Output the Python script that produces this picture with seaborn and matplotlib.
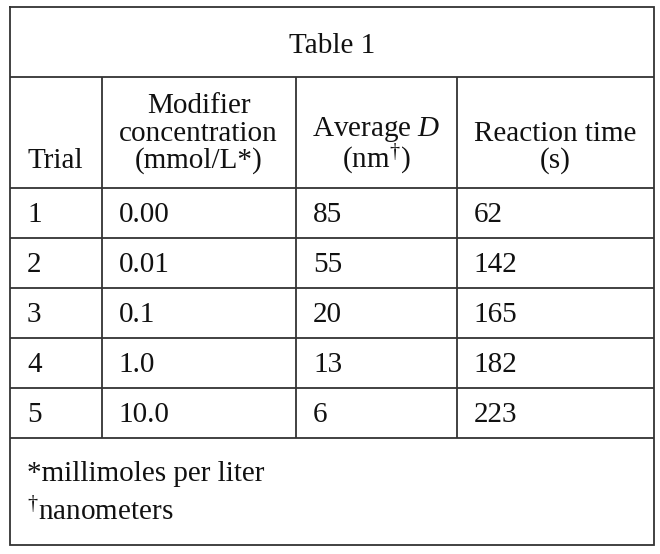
import matplotlib
matplotlib.use("Agg")
import matplotlib.pyplot as plt
import seaborn as sns

sns.set_theme(style="white")
plt.rcParams['font.family'] = ['Liberation Serif', 'DejaVu Serif']
plt.rcParams['mathtext.fontset'] = 'custom'
plt.rcParams['mathtext.rm'] = 'Liberation Serif'
plt.rcParams['mathtext.it'] = 'Liberation Serif:italic'

# ---- table data ----
title = "Table 1"
trials = ["1", "2", "3", "4", "5"]
modifier = ["0.00", "0.01", "0.1", "1.0", "10.0"]
avg_d = ["85", "55", "20", "13", "6"]
reaction = ["62", "142", "165", "182", "223"]
footnotes = ["*millimoles per liter", "$^{\u2020}$nanometers"]

W, H = 660, 554
fig = plt.figure(figsize=(W / 100, H / 100), dpi=100)
ax = fig.add_axes([0, 0, 1, 1])
ax.set_xlim(0, W)
ax.set_ylim(H, 0)
ax.axis("off")

FS = 21
LC = "#333333"
LW = 1.3
TC = "#111111"

# layout (pixels)
x_left, x_right = 10, 654
y_top, y_bottom = 7, 545
col_x = [x_left, 101.5, 296, 456.5, x_right]
y_title = 76.5
y_head = 187.5
row_h = 50
n = len(trials)
row_lines = [y_head + i * row_h for i in range(n + 1)]

# border and grid
ax.plot([x_left, x_right, x_right, x_left, x_left],
        [y_top, y_top, y_bottom, y_bottom, y_top], color=LC, lw=LW, solid_joinstyle="miter")
ax.hlines([y_title] + row_lines, x_left, x_right, color=LC, lw=LW)
ax.vlines(col_x[1:4], y_title, row_lines[-1], color=LC, lw=LW)

# title
ax.text((x_left + x_right) / 2, 53, title, fontsize=FS, ha="center", va="baseline", color=TC)

# headers
def cc(i):
    return (col_x[i] + col_x[i + 1]) / 2

pad = 17
ax.text(col_x[0] + pad, 168, "Trial", fontsize=FS, ha="left", va="baseline", color=TC)
for txt, yb in zip(["Modifier", "concentration", "(mmol/L*)"], [113, 141, 168]):
    ax.text(cc(1), yb, txt, fontsize=FS, ha="center", va="baseline", color=TC)
ax.text(cc(2), 136, "Average $D$", fontsize=FS, ha="center", va="baseline", color=TC)
ax.text(cc(2), 168, "(nm$^{\u2020}$)", fontsize=FS, ha="center", va="baseline", color=TC)
for txt, yb in zip(["Reaction time", "(s)"], [141, 168]):
    ax.text(cc(3), yb, txt, fontsize=FS, ha="center", va="baseline", color=TC)

# data rows
for i, vals in enumerate(zip(trials, modifier, avg_d, reaction)):
    yb = y_head + i * row_h + 35
    for j, v in enumerate(vals):
        ax.text(col_x[j] + pad, yb, v, fontsize=FS, ha="left", va="baseline", color=TC)

# footnotes
for k, ft in enumerate(footnotes):
    ax.text(col_x[0] + pad, 481 + 39 * k, ft, fontsize=FS, ha="left", va="baseline", color=TC)

fig.savefig("out.png", dpi=100, facecolor="white")
